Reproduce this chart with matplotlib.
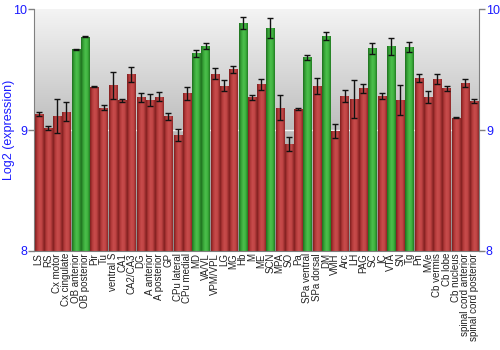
import numpy as np
import matplotlib
matplotlib.use("Agg")
import matplotlib.pyplot as plt
from matplotlib.colors import LinearSegmentedColormap

plt.rcParams['font.family'] = ['Liberation Sans', 'DejaVu Sans']

regions = ["LS", "RS", "Cx motor", "Cx cingulate", "OB anterior", "OB posterior",
           "Pir", "Tu", "ventral S", "CA1", "CA2/CA3", "DG", "A anterior",
           "A posterior", "GP", "CPu lateral", "CPu medial", "MD", "VA/VL",
           "VPM/VPL", "LG", "MG", "Hb", "M", "ME", "SCN", "MPA", "SO", "Pa",
           "SPa ventral", "SPa dorsal", "DM", "VMH", "Arc", "LH", "PAG", "SC",
           "IC", "VTA", "SN", "Tg", "Pn", "MVe", "Cb vermis", "Cb lobe",
           "Cb nucleus", "spinal cord anterior", "spinal cord posterior"]

expression = [9.132, 9.019, 9.116, 9.151, 9.669, 9.771,
              9.358, 9.185, 9.369, 9.245, 9.463, 9.270, 9.251,
              9.276, 9.113, 8.961, 9.303, 9.633, 9.691,
              9.466, 9.367, 9.501, 9.884, 9.270, 9.377, 9.843, 9.185, 8.884, 9.174,
              9.601, 9.367, 9.777, 8.992, 9.278, 9.253, 9.347, 9.675,
              9.281, 9.694, 9.248, 9.683, 9.430, 9.273, 9.421, 9.347,
              9.102, 9.388, 9.240]

errors = [0.020, 0.015, 0.140, 0.077, 0.005, 0.005,
          0.004, 0.018, 0.114, 0.015, 0.062, 0.040, 0.050,
          0.036, 0.030, 0.050, 0.055, 0.025, 0.025,
          0.044, 0.045, 0.029, 0.052, 0.022, 0.047, 0.083, 0.103, 0.056, 0.012,
          0.022, 0.066, 0.036, 0.056, 0.050, 0.157, 0.037, 0.048,
          0.028, 0.070, 0.127, 0.041, 0.036, 0.047, 0.040, 0.021,
          0.004, 0.036, 0.019]

highlighted = ["OB anterior", "OB posterior", "MD", "VA/VL", "Hb", "SCN",
               "SPa ventral", "DM", "SC", "VTA", "Tg"]

fig = plt.figure(figsize=(5, 3.5), dpi=100)
ax = fig.add_axes([0.068, 0.283, 0.89, 0.691])

ymin, ymax = 8, 10
x = np.arange(len(regions))
ax.set_xlim(-0.5, len(regions) - 0.5)
ax.set_ylim(ymin, ymax)

# vertical background gradient: light at the top, darker toward the bottom
bg = np.linspace(1, 0, 256).reshape(-1, 1)
bg_cmap = LinearSegmentedColormap.from_list("bg", ["#f4f4f4", "#bdbdbd", "#8a8a8a"])
ax.imshow(bg, extent=(-0.5, len(regions) - 0.5, ymin, ymax), aspect="auto",
          cmap=bg_cmap, origin="lower", zorder=0)

ax.axhline(9, color="#f4f4f4", lw=1, zorder=1)

colors = ["green" if r in highlighted else "red" for r in regions]
bars = ax.bar(x, [v - ymin for v in expression], bottom=ymin, width=0.88,
              color="none", edgecolor="none", zorder=2)

red_cmap = LinearSegmentedColormap.from_list(
    "redbar", ["#7e1e1e", "#b23a3a", "#c84c4c", "#c04444", "#8c2626"])
green_cmap = LinearSegmentedColormap.from_list(
    "greenbar", ["#1f6e1f", "#37a437", "#4cbf4c", "#3fb33f", "#237a23"])
hgrad = np.linspace(0, 1, 64).reshape(1, -1)

for patch, c in zip(bars.patches, colors):
    x0 = patch.get_x()
    w = patch.get_width()
    y0 = patch.get_y()
    h = patch.get_height()
    im = ax.imshow(hgrad, extent=(x0, x0 + w, y0, y0 + h), aspect="auto",
                   cmap=green_cmap if c == "green" else red_cmap, zorder=2)
    im.set_clip_path(patch)

ax.errorbar(x, expression, yerr=errors, fmt="none", ecolor="#111111",
            elinewidth=1, capsize=2, capthick=1, zorder=3)

ax.set_xticks(x)
ax.set_xticklabels(regions, rotation=90, fontsize=7, color="#222222")
ax.tick_params(axis="x", length=0, pad=1.5)

ticks = [8, 9, 10]
ax.set_yticks(ticks)
ax.set_yticklabels([str(t) for t in ticks])
ax.tick_params(axis="y", which="both", left=True, right=True,
               labelleft=True, labelright=True, direction="out",
               length=4, width=1, color="#808080", labelcolor="#1a1aff",
               labelsize=9, pad=1)
ax.set_ylabel("Log2 (expression)", color="#1a1aff", fontsize=9)
ax.yaxis.set_label_coords(-0.043, 0.5)

for side in ["left", "right", "bottom"]:
    ax.spines[side].set_color("#808080")
ax.spines["top"].set_visible(False)
ax.set_axisbelow(False)

fig.savefig("out.png", dpi=100, facecolor="white")
